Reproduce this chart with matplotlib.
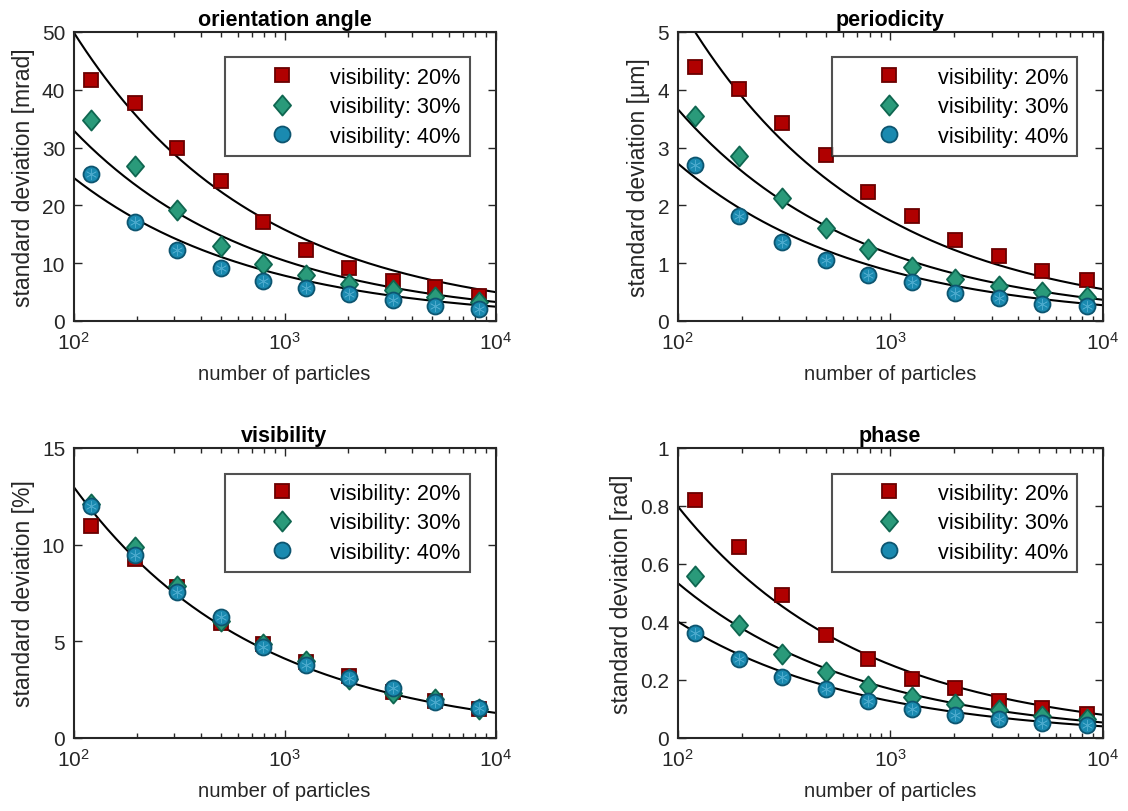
import numpy as np
import matplotlib
matplotlib.use("Agg")
import matplotlib.pyplot as plt
from matplotlib.path import Path
from matplotlib.ticker import LogLocator, NullFormatter

plt.rcParams['font.family'] = ['Liberation Sans', 'DejaVu Sans']

particles = [121, 195, 310, 500, 790, 1270, 2020, 3260, 5180, 8370]
series_labels = ['visibility: 20%', 'visibility: 30%', 'visibility: 40%']

orient_20 = [41.7, 37.8, 29.9, 24.3, 17.1, 12.3, 9.15, 7.0, 5.9, 4.4]
orient_30 = [34.8, 26.8, 19.2, 12.95, 9.9, 7.9, 6.4, 5.3, 4.1, 3.3]
orient_40 = [25.4, 17.1, 12.3, 9.15, 7.0, 5.7, 4.66, 3.56, 2.6, 2.1]
orient_fit100 = [50.0, 33.0, 24.8]

period_20 = [4.40, 4.01, 3.43, 2.88, 2.23, 1.81, 1.40, 1.12, 0.87, 0.71]
period_30 = [3.54, 2.85, 2.12, 1.61, 1.24, 0.93, 0.73, 0.60, 0.50, 0.41]
period_40 = [2.70, 1.81, 1.36, 1.05, 0.80, 0.67, 0.49, 0.40, 0.29, 0.26]
period_fit100 = [5.5, 3.67, 2.73]

vis_20 = [10.95, 9.26, 7.83, 5.95, 4.85, 3.92, 3.22, 2.40, 1.93, 1.50]
vis_30 = [12.1, 9.87, 7.88, 6.07, 4.86, 3.97, 3.05, 2.31, 2.02, 1.50]
vis_40 = [11.98, 9.48, 7.54, 6.28, 4.72, 3.79, 3.09, 2.57, 1.85, 1.54]
vis_fit100 = [13.0]

phase_20 = [0.819, 0.66, 0.494, 0.355, 0.272, 0.205, 0.171, 0.128, 0.104, 0.082]
phase_30 = [0.558, 0.39, 0.289, 0.226, 0.18, 0.142, 0.116, 0.096, 0.076, 0.065]
phase_40 = [0.362, 0.272, 0.211, 0.168, 0.128, 0.10, 0.08, 0.067, 0.053, 0.044]
phase_fit100 = [0.80, 0.535, 0.402]

panels = [
    ('orientation angle', 'standard deviation [mrad]', (0, 50), [0, 10, 20, 30, 40, 50],
     [orient_20, orient_30, orient_40], orient_fit100),
    ('periodicity', 'standard deviation [µm]', (0, 5), [0, 1, 2, 3, 4, 5],
     [period_20, period_30, period_40], period_fit100),
    ('visibility', 'standard deviation [%]', (0, 15), [0, 5, 10, 15],
     [vis_20, vis_30, vis_40], vis_fit100),
    ('phase', 'standard deviation [rad]', (0, 1), [0, 0.2, 0.4, 0.6, 0.8, 1],
     [phase_20, phase_30, phase_40], phase_fit100),
]

diamond = Path([(0, 1), (0.85, 0), (0, -1), (-0.85, 0), (0, 1)],
               [Path.MOVETO, Path.LINETO, Path.LINETO, Path.LINETO, Path.CLOSEPOLY])

styles = [
    dict(marker='s', markersize=9.8, markerfacecolor='#b00000', markeredgecolor='#6a0000'),
    dict(marker=diamond, markersize=14.5, markerfacecolor='#2a9a7a', markeredgecolor='#0f6650'),
    dict(marker='o', markersize=11.5, markerfacecolor='#1a8ab0', markeredgecolor='#0d5570'),
]

fig = plt.figure(figsize=(11.28, 8.12), dpi=100)
W, H = 1128, 812
boxes = [(73.5, 33, 422, 289), (677.5, 33, 425.5, 289),
         (73.5, 449, 422, 290), (677.5, 449, 425.5, 290)]

txt = '#262626'
xfit = np.logspace(2, 4, 200)

for (title, ylabel, ylim, yticks, data, fits), (l, t, w, h) in zip(panels, boxes):
    ax = fig.add_axes([l / W, 1 - (t + h) / H, w / W, h / H])
    ax.set_xscale('log')
    for c in fits:
        ax.plot(xfit, c * np.sqrt(100.0 / xfit), color='black', lw=1.5, zorder=2)
    handles = []
    for vals, st, lab in zip(data, styles, series_labels):
        hnd, = ax.plot(particles, vals, linestyle='none', markeredgewidth=1.3,
                       label=lab, zorder=3, **st)
        handles.append(hnd)
    # faint inner star on circles
    ax.plot(particles, data[2], linestyle='none', marker=(6, 2, 0), markersize=8,
            markeredgecolor='#4aa9cc', markeredgewidth=0.5, zorder=4)
    ax.set_xlim(100, 10000)
    ax.set_ylim(*ylim)
    ax.set_yticks(yticks)
    ax.set_yticklabels([f'{v:g}' for v in yticks])
    ax.xaxis.set_major_locator(LogLocator(base=10, numticks=5))
    ax.xaxis.set_minor_locator(LogLocator(base=10, subs=np.arange(2, 10), numticks=20))
    ax.xaxis.set_minor_formatter(NullFormatter())
    ax.tick_params(which='both', direction='in', top=True, right=True, colors=txt,
                   labelsize=15, labelcolor=txt, width=1.0)
    ax.tick_params(which='major', length=6, pad=7)
    ax.tick_params(which='minor', length=3.5)
    ax.tick_params(axis='y', which='major', pad=6)
    for sp in ax.spines.values():
        sp.set_linewidth(1.5)
        sp.set_color(txt)
    ax.set_title(title, fontsize=15.5, fontweight='bold', color='black', pad=5)
    ax.set_xlabel('number of particles', fontsize=14.6, color=txt, labelpad=8)
    ax.set_ylabel(ylabel, fontsize=16.5, color=txt, labelpad=5)
    leg = ax.legend(handles=handles, loc='upper right', bbox_to_anchor=(0.939, 0.912),
                    fontsize=15.6, frameon=True, fancybox=False, edgecolor=txt,
                    handlelength=4.4, handletextpad=0.05, borderpad=0.42,
                    labelspacing=0.4, borderaxespad=0)
    leg.get_frame().set_linewidth(1.5)
    for tx in leg.get_texts():
        tx.set_color('black')

fig.savefig('out.png', dpi=100, facecolor='white')
